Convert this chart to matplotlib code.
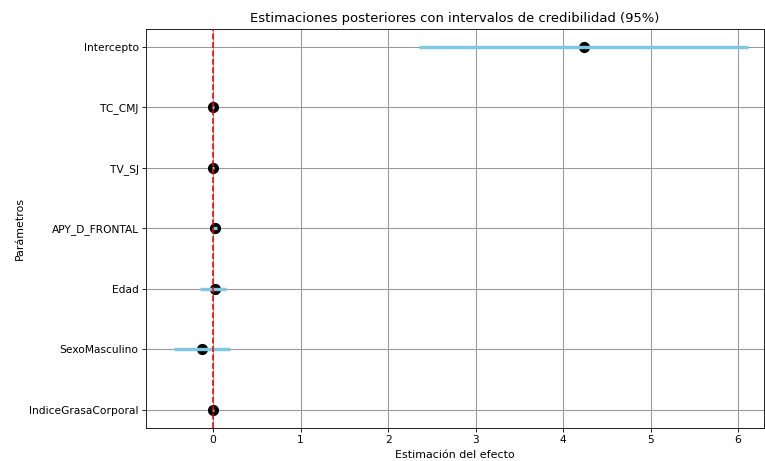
import matplotlib
matplotlib.use("Agg")
import matplotlib.pyplot as plt

params = ["Intercepto", "TC_CMJ", "TV_SJ", "APY_D_FRONTAL", "Edad", "SexoMasculino", "IndiceGrasaCorporal"]
estimate = [4.24, 0.0, 0.0, 0.02, 0.02, -0.13, 0.0]
lower = [2.35, -0.01, -0.01, 0.0, -0.15, -0.45, -0.01]
upper = [6.12, 0.01, 0.01, 0.04, 0.15, 0.19, 0.01]

fig = plt.figure(figsize=(10, 461 / 76.5), dpi=76.5)
ax = fig.add_axes([0.191, 0.0716, 0.808, 0.866])

ypos = list(range(len(params)))[::-1]
ax.grid(True, color="#9a9a9a", linewidth=1.0, zorder=0)
ax.set_axisbelow(True)
ax.scatter(estimate, ypos, s=90, color="black", zorder=3)
ax.hlines(ypos, lower, upper, color="#7ec8e3", linewidth=3.2, zorder=4)
ax.axvline(0, color="red", linestyle="--", linewidth=1.5, zorder=5)

ax.set_yticks(ypos)
ax.set_yticklabels(params)
ax.set_xlim(-0.766, 6.30)
ax.set_ylim(-0.3, 6.3)
ax.set_xlabel("Estimación del efecto", fontsize=10.3)
ax.set_ylabel("Parámetros", fontsize=10.3)
ax.set_title("Estimaciones posteriores con intervalos de credibilidad (95%)", fontsize=12.3)

fig.savefig("out.png", dpi=76.5)
